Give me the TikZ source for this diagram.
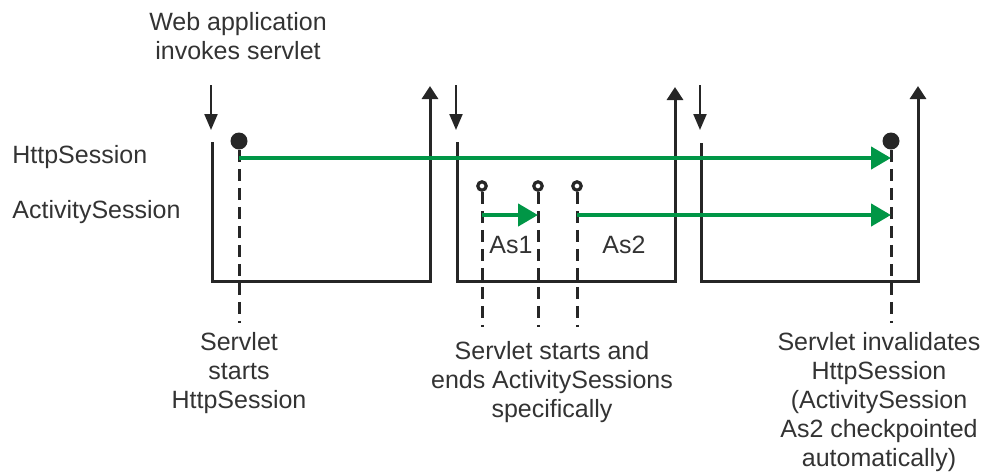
\documentclass[tikz,border=0pt]{standalone}
\usepackage{fontspec}
\setmainfont{Liberation Sans}
\usepackage{xcolor}
\usetikzlibrary{arrows.meta}
\definecolor{sessgreen}{RGB}{0,150,70}
\tikzstyle{lbl}=[inner sep=0pt, align=center, text=black!80, font=\fontsize{12.5}{14.5}\selectfont]
\tikzstyle{frame}=[line width=1.5pt, draw=black!85, -{Triangle[length=6.5pt,width=8pt]}]
\tikzstyle{invoke}=[line width=1.1pt, draw=black!85, -{Triangle[length=8pt,width=6.5pt]}]
\tikzstyle{dashline}=[line width=1.5pt, draw=black!85, dash pattern=on 6pt off 3.5pt]
\tikzstyle{sess}=[line width=2.2pt, draw=sessgreen, -{Triangle[length=10pt,width=11pt]}]
\tikzstyle{bigdot}=[circle, fill=black!85, inner sep=0pt, minimum size=8.5pt]
\tikzstyle{ring}=[circle, draw=black!85, line width=1.6pt, fill=white, inner sep=0pt, minimum size=4.2pt]

\begin{document}
\begin{tikzpicture}[x=0.5pt, y=-0.5pt]
\useasboundingbox (0,0) rectangle (993,473);

\node (webapp) [lbl, anchor=north] at (238,12) {Web application\\invokes servlet};
\node (hslbl) [lbl, anchor=base west] at (12,163) {HttpSession};
\node (aslbl) [lbl, anchor=base west] at (12,218) {ActivitySession};

% servlet invocations
\draw[invoke] (211,85) -- (211,130);
\draw[invoke] (456,85) -- (456,130);
\draw[invoke] (700,85) -- (700,130);
\draw[frame] (212,142) |- (430,281) -- (430,86);
\draw[frame] (457,142) |- (675,281) -- (675,87);
\draw[frame] (701,143) |- (918,281) -- (918,86);

\node (hsopen) [bigdot] at (239,141) {};
\node (hsclose) [bigdot] at (891,141) {};
\node (as1open) [ring] at (482,186) {};
\node (as1close) [ring] at (538,186) {};
\node (as2open) [ring] at (577,186) {};

\node (as1lbl) [lbl, anchor=base] at (511,253) {As1};
\node (as2lbl) [lbl, anchor=base] at (624,253) {As2};
\node (startlbl) [lbl, anchor=north] at (239,332) {Servlet\\starts\\HttpSession};
\node (actlbl) [lbl, anchor=north] at (552,341) {Servlet starts and\\ends ActivitySessions\\specifically};
\node (endlbl) [lbl, anchor=north] at (879,332) {Servlet invalidates\\HttpSession\\(ActivitySession\\As2 checkpointed\\automatically)};

\coordinate (hsstart) at (239,158);
\coordinate (hsend) at (891,158);
\coordinate (as1start) at (482,215);
\coordinate (as1end) at (538,215);
\coordinate (as2start) at (577,215);
\coordinate (as2end) at (891,215);

\draw[dashline] (hsopen) -- (hsopen |- startlbl.north) [shorten >=4.5pt];
\draw[dashline] (as1open) -- (as1open |- actlbl.north) [shorten >=7pt];
\draw[dashline] (as1close) -- (as1close |- actlbl.north) [shorten >=7pt];
\draw[dashline] (as2open) -- (as2open |- actlbl.north) [shorten >=7pt];
\draw[dashline] (hsclose) -- (hsclose |- endlbl.north) [shorten >=4.5pt];

\draw[sess] (hsstart) -- (hsend);
\draw[sess] (as1start) -- (as1end);
\draw[sess] (as2start) -- (as2end);
\end{tikzpicture}
\end{document}
